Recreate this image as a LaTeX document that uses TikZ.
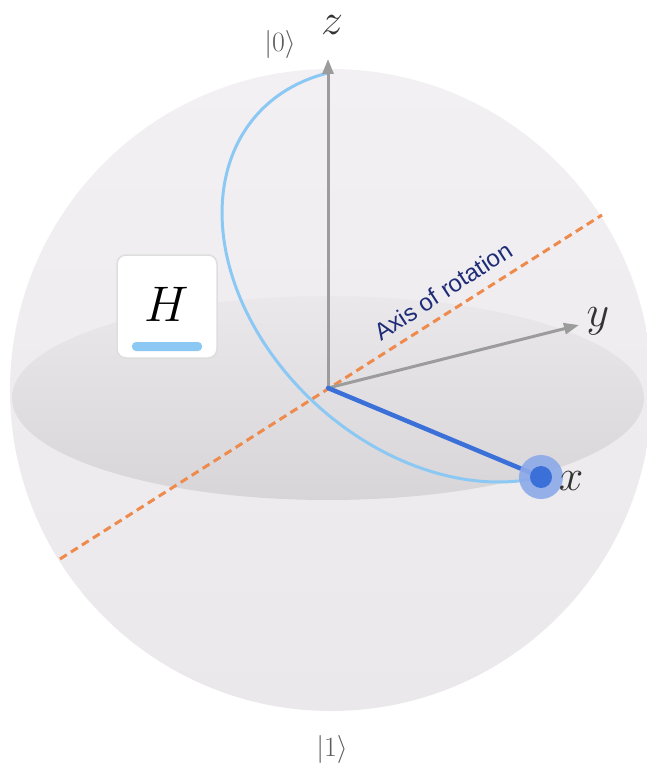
\RequirePackage{fix-cm}
\documentclass[tikz,border=0pt]{standalone}
\usepackage{fontspec}
\newfontfamily\sansf{Liberation Sans}
\usetikzlibrary{arrows.meta}
\definecolor{spheretop}{HTML}{F2F0F3}
\definecolor{spherebot}{HTML}{EBE8EC}
\definecolor{eqtop}{HTML}{EAE8EB}
\definecolor{eqbot}{HTML}{D8D5D9}
\definecolor{axisgray}{HTML}{9C9C9C}
\definecolor{orangeax}{HTML}{EE8A4C}
\definecolor{arcblue}{HTML}{8CC8F4}
\definecolor{vecblue}{HTML}{3A70D8}
\definecolor{haloblue}{HTML}{8CA9E8}
\definecolor{navyt}{HTML}{1E2C78}
\definecolor{labelgray}{HTML}{5E5E5E}
\definecolor{boxgray}{HTML}{DEDEDE}
\tikzset{
  axisline/.style={draw=axisgray, line width=3pt, -{Triangle[length=15pt,width=11pt]}},
  rotaxis/.style={draw=orangeax, line width=3pt, dash pattern=on 8pt off 5pt},
  patharc/.style={draw=arcblue, line width=3pt},
  statevec/.style={draw=vecblue, line width=4.5pt},
  axislabel/.style={font=\fontsize{44}{44}\selectfont, text=black!80, inner sep=0pt},
  ketlabel/.style={font=\fontsize{28}{28}\selectfont, text=labelgray, inner sep=0pt},
  gatebox/.style={draw=boxgray, line width=1.5pt, fill=white, rounded corners=9pt,
                  minimum width=100pt, minimum height=103pt, inner sep=0pt},
}
\begin{document}
\begin{tikzpicture}[x=1pt,y=-1pt]
\useasboundingbox (0,0) rectangle (646,767);
% sphere
\shade[top color=spheretop, bottom color=spherebot] (331,390) circle[radius=321];
% equator disc
\shade[top color=eqtop, bottom color=eqbot] (328,398) ellipse[x radius=316, y radius=102];
% coordinates
\coordinate (O) at (328,388);
\coordinate (ztip) at (328,59);
\coordinate (ytip) at (579,325);
\coordinate (xpt) at (541,477);
\coordinate (ra) at (60,559);
\coordinate (rb) at (602,215);
% rotation axis
\draw[rotaxis] (ra) -- (rb);
% rotation path (|0> rotated by pi about (x+z)/sqrt2)
\draw[patharc] plot[domain=0:180, samples=90, smooth]
  ({328 + 213*(1-cos(\x))/2 - 260*sin(\x)/sqrt(2)},
   {388 + 89*(1-cos(\x))/2 + 64*sin(\x)/sqrt(2) - 315*(1+cos(\x))/2});
% axes
\draw[axisline] (O) -- (ztip);
\draw[axisline] (O) -- (ytip);
% state vector
\draw[statevec, line cap=round] (O) -- (xpt);
\fill[haloblue, opacity=0.9] (xpt) circle[radius=22];
\node[circle, fill=vecblue, minimum size=22pt, inner sep=0pt] (xdot) at (xpt) {};
% labels
\node[axislabel] (zl) at (332,25) {$z$};
\node[axislabel] (yl) at (598,321) {$y$};
\node[axislabel] (xl) at (571,481) {$x$};
\node[ketlabel] (k0) at (280,45) {$|0\rangle$};
\node[ketlabel] (k1) at (332,749) {$|1\rangle$};
\node[font=\sansf\fontsize{24}{24}\selectfont, text=navyt, rotate=33, inner sep=0pt] (axl) at (443,291) {Axis of rotation};
% H gate
\node[gatebox] (hbox) at (167,306.5) {};
\fill[arcblue, rounded corners=4pt] (132,351) rectangle (202,342);
\node[font=\fontsize{50}{50}\selectfont, inner sep=0pt] (hl) at (166.5,304.5) {$H$};
\end{tikzpicture}
\end{document}
